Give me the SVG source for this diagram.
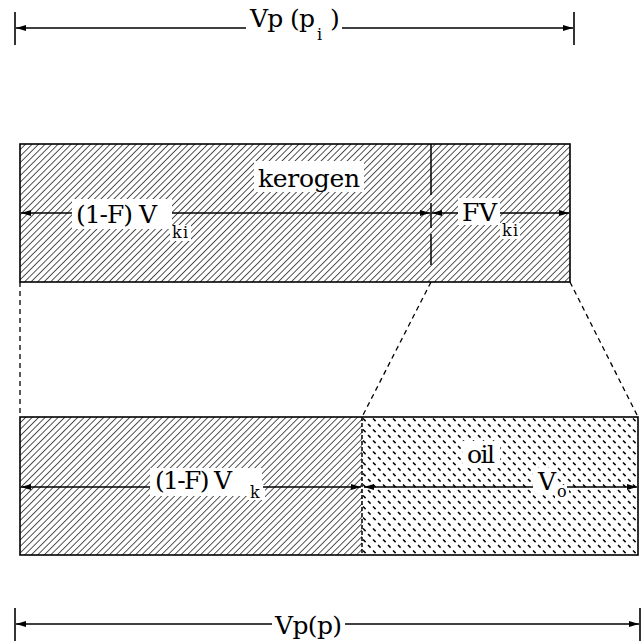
<svg xmlns="http://www.w3.org/2000/svg" width="643" height="641" viewBox="0 0 643 641">
<style>
text{font-family:"DejaVu Serif","Liberation Serif",serif;fill:#000}
.lbl{font-size:25px}
.sub{font-size:16px}
.bg{fill:#fff}
.arr{stroke:#000;stroke-width:1.5;fill:none;marker-end:url(#ah)}
.tick{stroke:#000;stroke-width:1.6}
.dash{stroke:#000;stroke-width:1.3;fill:none;stroke-dasharray:5 4}
.box{fill:none;stroke:#000;stroke-width:1.6}
</style>
<defs>
<marker id="ah" viewBox="0 0 10 6" refX="10" refY="3" markerWidth="10" markerHeight="6" markerUnits="userSpaceOnUse" orient="auto">
<path d="M0,0 L10,3 L0,6 z" fill="#000"/>
</marker>
<pattern id="hatch" patternUnits="userSpaceOnUse" width="4.6" height="10" patternTransform="rotate(45)">
<line x1="0" y1="-1" x2="0" y2="11" stroke="#000" stroke-width="1.35"/>
</pattern>
<pattern id="oil" patternUnits="userSpaceOnUse" width="10" height="11" x="362" y="417">
<line x1="1" y1="1.5" x2="3.6" y2="4.1" stroke="#000" stroke-width="1.5"/>
<line x1="6" y1="7" x2="8.6" y2="9.6" stroke="#000" stroke-width="1.5"/>
</pattern>
</defs>

<g id="dim-top">
<line class="tick" x1="15" y1="12" x2="15" y2="45"/>
<line class="tick" x1="574" y1="12" x2="574" y2="45"/>
<line class="arr" x1="246" y1="28" x2="16" y2="28"/>
<line class="arr" x1="342" y1="28" x2="573" y2="28"/>
<text class="lbl" x="250" y="27" textLength="65">Vp (p</text>
<text class="sub" x="317" y="40">i</text>
<text class="lbl" x="330" y="27">)</text>
</g>

<g id="kerogen-block">
<rect x="20" y="144" width="550" height="138" fill="url(#hatch)"/>
<rect class="box" x="20" y="144" width="550" height="138"/>
<path d="M431 144V195M431 203V228M431 234V265" stroke="#000" stroke-width="1.5" fill="none"/>
<rect class="bg" x="254" y="161" width="110" height="31"/>
<text class="lbl" x="258" y="187" textLength="102">kerogen</text>
<rect class="bg" x="72" y="199" width="100" height="30"/>
<rect class="bg" x="170" y="225" width="21" height="16"/>
<text class="lbl" x="76" y="223" textLength="81">(1-F) V</text>
<text class="sub" x="172" y="238" textLength="16">ki</text>
<rect class="bg" x="458" y="198" width="42" height="27"/>
<rect class="bg" x="500" y="223" width="20" height="16"/>
<text class="lbl" x="462" y="221" textLength="35">FV</text>
<text class="sub" x="502" y="236" textLength="16">ki</text>
<line class="arr" x1="72" y1="213" x2="21" y2="213"/>
<line class="arr" x1="172" y1="213" x2="430" y2="213"/>
<line class="arr" x1="458" y1="213" x2="432" y2="213"/>
<line class="arr" x1="500" y1="213" x2="569" y2="213"/>
</g>

<g id="connectors">
<path class="dash" d="M20 282V417"/>
<path class="dash" d="M431 282L362 417"/>
<path class="dash" d="M570 282L638 417"/>
</g>

<g id="kerogen-oil-block">
<rect x="20" y="417" width="342" height="138" fill="url(#hatch)"/>
<rect x="362" y="417" width="276" height="138" fill="url(#oil)"/>
<rect class="box" x="20" y="417" width="618" height="138"/>
<line x1="362" y1="417" x2="362" y2="555" stroke="#000" stroke-width="1.5" stroke-dasharray="4 2"/>
<rect class="bg" x="150" y="468" width="112" height="28"/>
<rect class="bg" x="248" y="485" width="17" height="15"/>
<text class="lbl" x="155" y="489" textLength="77">(1-F) V</text>
<text class="sub" x="250" y="498">k</text>
<rect class="bg" x="463" y="441" width="37" height="27"/>
<text class="lbl" x="467" y="463" textLength="28">oil</text>
<rect class="bg" x="533" y="468" width="24" height="26"/>
<rect class="bg" x="555" y="485" width="14" height="14"/>
<text class="lbl" x="538" y="490">V</text>
<text class="sub" x="557" y="497">o</text>
<line class="arr" x1="150" y1="487" x2="21" y2="487"/>
<line class="arr" x1="263" y1="487" x2="361" y2="487"/>
<line class="arr" x1="533" y1="487" x2="364" y2="487"/>
<line class="arr" x1="567" y1="487" x2="637" y2="487"/>
</g>

<g id="dim-bottom">
<line class="tick" x1="15" y1="608" x2="15" y2="641"/>
<line class="tick" x1="640" y1="608" x2="640" y2="641"/>
<line class="arr" x1="272" y1="624" x2="16" y2="624"/>
<line class="arr" x1="345" y1="624" x2="639" y2="624"/>
<text class="lbl" x="275" y="634" textLength="67">Vp(p)</text>
</g>
</svg>
